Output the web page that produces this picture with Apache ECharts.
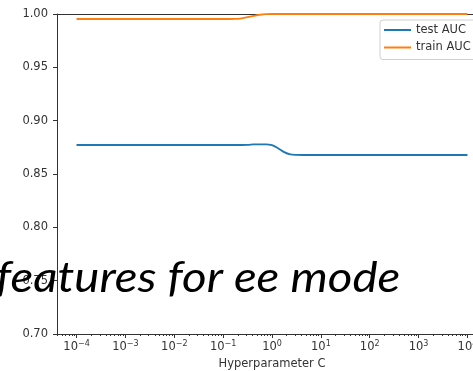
<!DOCTYPE html>
<html>
<head>
<meta charset="utf-8">
<script src="https://cdn.jsdelivr.net/npm/echarts@6/dist/echarts.min.js"></script>
<style>
  html, body { margin: 0; padding: 0; background: #fff; overflow: hidden; }
  #chart { width: 500px; height: 371px; }
</style>
</head>
<body>
<div id="chart"></div>
<script>
// Regularisation strength C swept on a log grid
const cValues = [1e-4, 3.16e-4, 1e-3, 3.16e-3, 1e-2, 3.16e-2, 0.1, 0.133, 0.178, 0.237,
  0.316, 0.422, 0.562, 0.75, 1, 1.33, 1.78, 2.37, 3.16, 4.22, 5.62, 10, 31.6, 100, 316,
  1000, 3162, 10000];
const testAuc = [0.8772, 0.8772, 0.8772, 0.8772, 0.8772, 0.8772, 0.8772, 0.8772, 0.8772, 0.8772,
  0.8773, 0.8777, 0.8778, 0.8778, 0.8770, 0.8742, 0.8705, 0.8684, 0.8679, 0.8678, 0.8678, 0.8678,
  0.8678, 0.8678, 0.8678, 0.8678, 0.8678, 0.8678];
const trainAuc = [0.9953, 0.9953, 0.9953, 0.9953, 0.9953, 0.9953, 0.9953, 0.9953, 0.9954, 0.9960,
  0.9970, 0.9982, 0.9993, 0.9999, 1.0, 1.0, 1.0, 1.0, 1.0, 1.0, 1.0, 1.0, 1.0, 1.0, 1.0, 1.0,
  1.0, 1.0];
const seriesNames = ['test AUC', 'train AUC'];
const majorTicks = [1e-4, 1e-3, 1e-2, 1e-1, 1, 10, 100, 1000, 10000];
const xTitle = 'Hyperparameter C';
const overlayText = 'features for ee mode';

// minor log ticks 2..9 × 10^k
const minorTicks = [];
for (let k = -5; k <= 4; k++) {
  for (let m = 2; m <= 9; m++) minorTicks.push(m * Math.pow(10, k));
}

const xMin = Math.pow(10, -4.4);
const xMax = Math.pow(10, 4.4);
const axisColor = '#333';
const textColor = '#333';
const fontSize = 11.5;

function supLabel(v) {
  const e = Math.round(Math.log10(v));
  return '{b|10}{s|' + (e < 0 ? '\u2212' + (-e) : String(e)) + '}';
}

const chart = echarts.init(document.getElementById('chart'), null, { renderer: 'canvas' });
chart.setOption({
  animation: false,
  backgroundColor: '#fff',
  grid: { left: 57, right: 13, top: 14, bottom: 37, containLabel: false, outerBoundsMode: 'none' },
  legend: {
    orient: 'vertical',
    left: 380, top: 20,
    data: seriesNames,
    icon: 'rect',
    itemWidth: 27, itemHeight: 2,
    itemGap: 3.5,
    padding: [3, 8, 5, 4],
    backgroundColor: 'rgba(255,255,255,0.85)',
    borderColor: '#d0d0d0', borderWidth: 1, borderRadius: 3,
    textStyle: { fontFamily: 'DejaVu Sans', fontSize: fontSize, color: textColor, lineHeight: 14 }
  },
  xAxis: [
    {
      type: 'log', logBase: 10, min: xMin, max: xMax, position: 'bottom', z: 3,
      axisLine: { show: true, lineStyle: { color: axisColor, width: 1 } },
      axisTick: { show: true, customValues: majorTicks, length: 4, lineStyle: { color: axisColor } },
      axisLabel: {
        customValues: majorTicks, margin: 6,
        formatter: supLabel,
        rich: {
          b: { fontFamily: 'DejaVu Sans', fontSize: fontSize, lineHeight: 15, color: textColor },
          s: { fontFamily: 'DejaVu Sans', fontSize: 8, lineHeight: 7, verticalAlign: 'top', color: textColor }
        }
      },
      splitLine: { show: false },
      name: xTitle, nameLocation: 'middle', nameGap: 23,
      nameTextStyle: { fontFamily: 'DejaVu Sans', fontSize: fontSize, color: textColor }
    },
    {
      type: 'log', logBase: 10, min: xMin, max: xMax, position: 'bottom', z: 3,
      axisLine: { show: false },
      axisTick: { show: true, customValues: minorTicks, length: 2, lineStyle: { color: axisColor } },
      axisLabel: { show: false },
      splitLine: { show: false }
    },
    {
      type: 'log', logBase: 10, min: xMin, max: xMax, position: 'top', z: 3,
      axisLine: { show: true, lineStyle: { color: axisColor, width: 1 } },
      axisTick: { show: false }, axisLabel: { show: false }, splitLine: { show: false }
    }
  ],
  yAxis: {
    type: 'value', min: 0.70, max: 1.00, interval: 0.05, z: 3,
    axisLine: { show: true, lineStyle: { color: axisColor, width: 1 } },
    axisTick: { show: true, length: 4, lineStyle: { color: axisColor } },
    axisLabel: {
      margin: 9, fontFamily: 'DejaVu Sans', fontSize: fontSize, color: textColor,
      formatter: v => v.toFixed(2)
    },
    splitLine: { show: false }
  },
  series: [
    {
      name: seriesNames[0], type: 'line', xAxisIndex: 0,
      data: cValues.map((c, i) => [c, testAuc[i]]),
      showSymbol: false, smooth: 0.3,
      lineStyle: { color: '#1f77b4', width: 1.8 }, itemStyle: { color: '#1f77b4' }
    },
    {
      name: seriesNames[1], type: 'line', xAxisIndex: 0,
      data: cValues.map((c, i) => [c, trainAuc[i]]),
      showSymbol: false, smooth: 0.3,
      lineStyle: { color: '#ff7f0e', width: 1.8 }, itemStyle: { color: '#ff7f0e' }
    }
  ],
  graphic: [
    {
      type: 'text', x: -4, y: 257, z: 100,
      scaleX: 1.13, originX: 0,
      style: {
        text: overlayText,
        font: 'italic 42px Lato',
        fill: '#000'
      }
    }
  ]
});
</script>
</body>
</html>
